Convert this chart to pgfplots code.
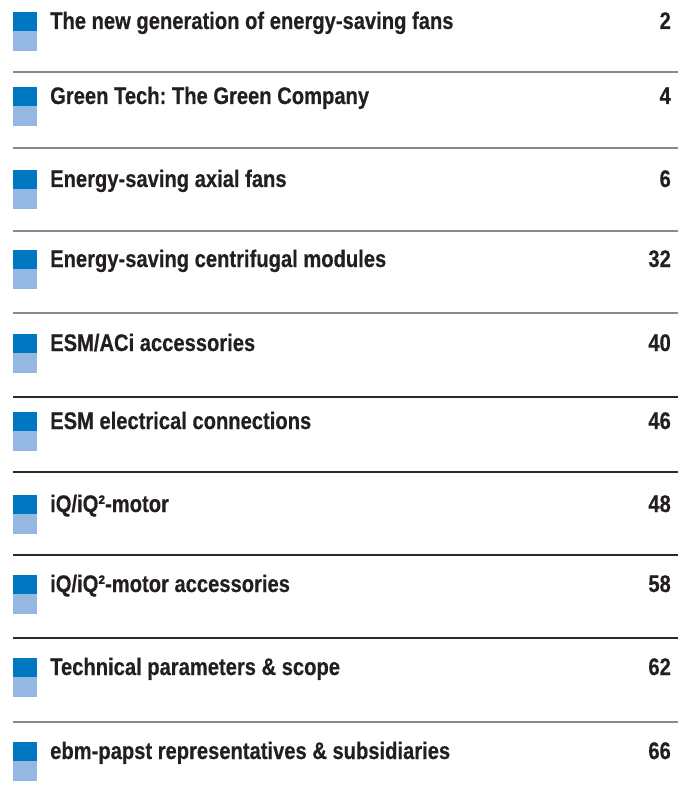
\documentclass[border=0pt]{standalone}
\usepackage{pgfplots}
\pgfplotsset{compat=1.18}
\usepackage{pgfplotstable}
\usepackage{fontspec}
\setmainfont{Liberation Sans}
\newfontfamily\condb{Liberation Sans Bold}[FakeStretch=0.84, FakeBold=0.4]
\frenchspacing
\definecolor{dblue}{HTML}{0077C1}
\definecolor{lblue}{HTML}{95B8E3}
\definecolor{txt}{HTML}{231F20}
\definecolor{lgray}{HTML}{8A8A8A}
\definecolor{dline}{HTML}{2A2A2A}
% square centres (px from top): dark and light halves
\pgfplotstableread{
x top dc lc
24.5 12 21.5 40.5
24.5 87 96.5 115.5
24.5 170 179.5 198.5
24.5 250 259.5 278.5
24.5 334 343.5 362.5
24.5 412 421.5 440.5
24.5 495 504.5 523.5
24.5 575 584.5 603.5
24.5 658 667.5 686.5
24.5 742 751.5 770.5
}\squares
\begin{document}
\begin{tikzpicture}
\begin{axis}[
  scale only axis, width=692bp, height=798bp,
  xmin=0, xmax=692, ymin=0, ymax=798, y dir=reverse,
  axis lines=none, clip=false,
]
\addplot[draw=none, forget plot] coordinates {(0,0) (692,0) (692,798) (0,798)};
\addplot[only marks, mark=square*, mark size=9.5bp, color=dblue,
  mark options={xscale=23/19, draw=none, fill=dblue}] table[x=x, y=dc] {\squares};
\addplot[only marks, mark=square*, mark size=9.5bp, color=lblue,
  mark options={xscale=23/19, draw=none, fill=lblue}] table[x=x, y=lc] {\squares};
% separators
\addplot[lgray, line width=1.4bp] coordinates {(13,72) (678,72)};
\addplot[lgray, line width=1.4bp] coordinates {(13,148) (678,148)};
\addplot[lgray, line width=1.4bp] coordinates {(13,231) (678,231)};
\addplot[lgray, line width=1.4bp] coordinates {(13,313) (678,313)};
\addplot[dline, line width=1.2bp] coordinates {(13,397) (678,397)};
\addplot[dline, line width=1.2bp] coordinates {(13,472) (678,472)};
\addplot[dline, line width=1.2bp] coordinates {(13,555) (678,555)};
\addplot[dline, line width=1.2bp] coordinates {(13,638) (678,638)};
\addplot[lgray, line width=1.4bp] coordinates {(13,722) (678,722)};
% text
\begin{scope}[every node/.style={inner sep=0pt, text=txt, font=\condb\fontsize{24bp}{28bp}\selectfont}]
\node[anchor=base west] at (axis cs:50,29) {The new generation of energy-saving fans};
\node[anchor=base west] at (axis cs:50,104) {Green Tech: The Green Company};
\node[anchor=base west] at (axis cs:50,187) {Energy-saving axial fans};
\node[anchor=base west] at (axis cs:50,267) {Energy-saving centrifugal modules};
\node[anchor=base west] at (axis cs:50,351) {ESM/ACi accessories};
\node[anchor=base west] at (axis cs:50,429) {ESM electrical connections};
\node[anchor=base west] at (axis cs:50,512) {iQ/iQ²-motor};
\node[anchor=base west] at (axis cs:50,592) {iQ/iQ²-motor accessories};
\node[anchor=base west] at (axis cs:50,675) {Technical parameters \& scope};
\node[anchor=base west] at (axis cs:50,759) {ebm-papst representatives \& subsidiaries};
\node[anchor=base east] at (axis cs:671,29) {2};
\node[anchor=base east] at (axis cs:671,104) {4};
\node[anchor=base east] at (axis cs:671,187) {6};
\node[anchor=base east] at (axis cs:671,267) {32};
\node[anchor=base east] at (axis cs:671,351) {40};
\node[anchor=base east] at (axis cs:671,429) {46};
\node[anchor=base east] at (axis cs:671,512) {48};
\node[anchor=base east] at (axis cs:671,592) {58};
\node[anchor=base east] at (axis cs:671,675) {62};
\node[anchor=base east] at (axis cs:671,759) {66};
\end{scope}
\end{axis}
\end{tikzpicture}
\end{document}
